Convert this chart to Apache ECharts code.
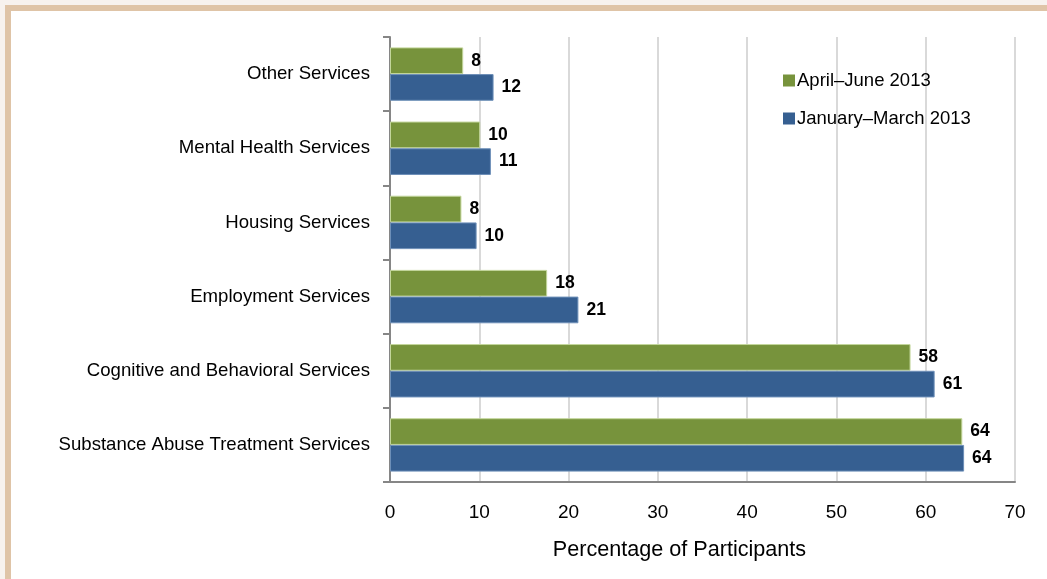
<!DOCTYPE html>
<html>
<head>
<meta charset="utf-8">
<script src="https://cdn.jsdelivr.net/npm/echarts@6/dist/echarts.min.js"></script>
<style>
  html, body { margin: 0; padding: 0; background: #f7f2ee; overflow: hidden; }
  #frame {
    position: absolute; left: 5px; top: 5px; width: 1100px; height: 640px;
    background: #fff; border-left: 6px solid #dfc4a7; border-top: 6px solid #dfc4a7;
  }
  #main { position: absolute; left: 0; top: 0; width: 1047px; height: 579px; }
</style>
</head>
<body>
<div id="frame"></div>
<div id="main"></div>
<script>
document.addEventListener('DOMContentLoaded', function() {
    // categories listed bottom to top (ECharts category y axis)
    var categories = [
        'Substance Abuse Treatment Services',
        'Cognitive and Behavioral Services',
        'Employment Services',
        'Housing Services',
        'Mental Health Services',
        'Other Services'
    ];
    var aprJun = [64.1, 58.3, 17.6, 8.0, 10.1, 8.2];
    var janMar = [64.3, 61.0, 21.1, 9.7, 11.3, 11.6];
    var xTicks = [0, 10, 20, 30, 40, 50, 60, 70];

    var chartDom = document.getElementById('main');
    var myChart = echarts.init(chartDom);
    var font = '"Liberation Sans", Arial, sans-serif';

    var labelStyle = {
        show: true,
        position: 'right',
        distance: 8,
        color: '#000',
        fontFamily: font,
        fontWeight: 'bold',
        fontSize: 17.5,
        formatter: function(p) { return Math.round(p.value); }
    };

    var option = {
        animation: false,
        textStyle: { fontFamily: font },
        legend: {
            orient: 'vertical',
            left: 778,
            top: 66,
            itemWidth: 12,
            itemHeight: 12,
            itemGap: 19,
            itemStyle: { borderWidth: 0 },
            data: ['April–June 2013', 'January–March 2013'],
            textStyle: { fontSize: 18.5, color: '#000', fontFamily: font, padding: [0, 0, 0, -3] },
            icon: 'rect'
        },
        grid: { left: 390, right: 32, top: 37, bottom: 97, containLabel: false },
        xAxis: {
            type: 'value',
            min: 0,
            max: 70,
            interval: 10,
            name: 'Percentage of Participants',
            nameLocation: 'middle',
            nameGap: 57,
            nameTextStyle: { fontSize: 21.6, color: '#000', fontFamily: font, padding: [0, 46, 0, 0] },
            axisLine: { show: true, lineStyle: { color: '#868686', width: 2 } },
            axisTick: { show: false },
            axisLabel: {
                fontSize: 19, color: '#000', margin: 21, fontFamily: font,
                formatter: function(v) { return xTicks.indexOf(v) >= 0 ? v : ''; }
            },
            splitLine: { show: true, lineStyle: { color: '#d9d9d9', width: 2 } }
        },
        yAxis: {
            type: 'category',
            data: categories,
            axisLine: { show: true, lineStyle: { color: '#868686', width: 2 } },
            axisTick: { show: true, length: 7, lineStyle: { color: '#868686', width: 2 } },
            axisLabel: { fontSize: 18.6, color: '#000', margin: 20, fontFamily: font }
        },
        series: [
            {
                name: 'April–June 2013',
                type: 'bar',
                data: aprJun,
                barGap: '0%',
                barCategoryGap: '28%',
                itemStyle: { color: '#77933c', borderColor: '#c3d69b', borderWidth: 1 },
                label: labelStyle
            },
            {
                name: 'January–March 2013',
                type: 'bar',
                data: janMar,
                barGap: '0%',
                barCategoryGap: '28%',
                itemStyle: { color: '#365f91', borderColor: '#6d8fb8', borderWidth: 1 },
                label: labelStyle
            }
        ]
    };

    option && myChart.setOption(option);
});
</script>
</body>
</html>
